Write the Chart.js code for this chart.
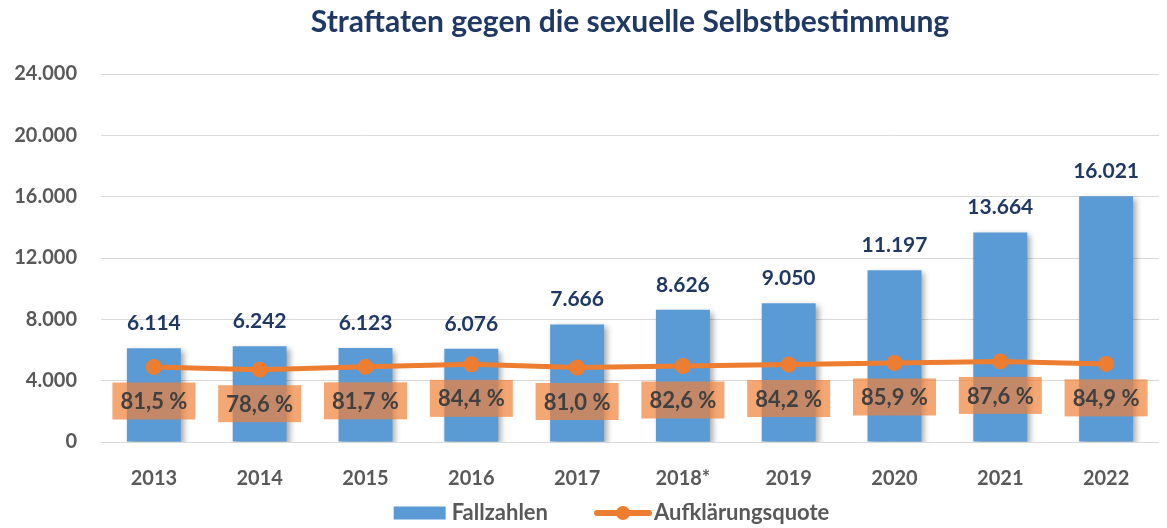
<!DOCTYPE html>
<html>
<head>
<meta charset="utf-8">
<script src="https://cdn.jsdelivr.net/npm/chart.js@4.4.1/dist/chart.umd.min.js"></script>
<style>
  html, body { margin: 0; padding: 0; background: #fff; }
  #wrap { width: 1167px; height: 528px; }
</style>
</head>
<body>
<div id="wrap"><canvas id="chart"></canvas></div>
<script>
const jahre = ['2013', '2014', '2015', '2016', '2017', '2018*', '2019', '2020', '2021', '2022'];
const fallzahlen = [6114, 6242, 6123, 6076, 7666, 8626, 9050, 11197, 13664, 16021];
const quote = [81.5, 78.6, 81.7, 84.4, 81.0, 82.6, 84.2, 85.9, 87.6, 84.9];
const yTicks = [0, 4000, 8000, 12000, 16000, 20000, 24000];

const BLAU = '#5b9bd5';
const ORANGE = '#ed7d31';
const GRAU = '#595959';
const FONT = 'Lato, "Open Sans", sans-serif';

// 6114 -> "6.114"
const tausender = v => String(v).replace(/\B(?=(\d{3})+(?!\d))/g, '.');
const prozent = v => v.toFixed(1).replace('.', ',') + ' %';

// Schatten hinter den Saeulen
const saeulenSchatten = {
    id: 'saeulenSchatten',
    beforeDatasetDraw(chart, args) {
        if (args.meta.type !== 'bar') return;
        const ctx = chart.ctx;
        ctx.save();
        ctx.shadowColor = 'rgba(0,0,0,0.35)';
        ctx.shadowBlur = 6;
        ctx.shadowOffsetX = 3;
        ctx.shadowOffsetY = 3;
    },
    afterDatasetDraw(chart, args) {
        if (args.meta.type !== 'bar') return;
        chart.ctx.restore();
    }
};

// Werte ueber den Saeulen und Quoten-Kaesten unter der Linie
const wertBeschriftung = {
    id: 'wertBeschriftung',
    afterDatasetsDraw(chart) {
        const ctx = chart.ctx;
        ctx.save();
        ctx.textAlign = 'center';
        ctx.textBaseline = 'middle';

        const bars = chart.getDatasetMeta(0).data;
        ctx.font = 'bold 21px ' + FONT;
        ctx.fillStyle = '#1f3864';
        bars.forEach((b, i) => {
            ctx.fillText(tausender(fallzahlen[i]), b.x, b.y - 25);
        });

        const punkte = chart.getDatasetMeta(1).data;
        ctx.font = 'bold 22px ' + FONT;
        punkte.forEach((p, i) => {
            const w = 83, h = 37;
            const cy = p.y + 34;
            ctx.fillStyle = 'rgba(240,128,55,0.7)';
            ctx.fillRect(p.x - w / 2, cy - h / 2, w, h);
            ctx.fillStyle = '#404040';
            ctx.fillText(prozent(quote[i]), p.x, cy + 1);
        });
        ctx.restore();
    }
};

// Legende unten: Block fuer Fallzahlen, Linie mit Punkt fuer die Quote
const legendeUnten = {
    id: 'legendeUnten',
    afterDraw(chart) {
        const ctx = chart.ctx;
        const names = chart.data.datasets.map(d => d.label);
        ctx.save();
        ctx.font = 'bold 22px ' + FONT;
        ctx.textBaseline = 'middle';
        ctx.textAlign = 'left';
        const w1 = ctx.measureText(names[0]).width;
        const w2 = ctx.measureText(names[1]).width;
        const total = 52 + 6 + w1 + 46 + 58 + 2 + w2;
        let x = chart.width / 2 + 28 - total / 2;
        const y = 513;

        ctx.fillStyle = BLAU;
        ctx.fillRect(x, y - 6.5, 52, 13);
        x += 58;
        ctx.fillStyle = GRAU;
        ctx.fillText(names[0], x, y);
        x += w1 + 46;

        ctx.strokeStyle = ORANGE;
        ctx.lineWidth = 6;
        ctx.lineCap = 'round';
        ctx.beginPath(); ctx.moveTo(x + 3, y); ctx.lineTo(x + 55, y); ctx.stroke();
        ctx.fillStyle = ORANGE;
        ctx.beginPath(); ctx.arc(x + 29, y, 7, 0, Math.PI * 2); ctx.fill();
        x += 60;
        ctx.fillStyle = GRAU;
        ctx.fillText(names[1], x, y);
        ctx.restore();
    }
};

new Chart(document.getElementById('chart'), {
    data: {
        labels: jahre,
        datasets: [{
            type: 'bar',
            label: 'Fallzahlen',
            data: fallzahlen,
            backgroundColor: BLAU,
            categoryPercentage: 1,
            barPercentage: 0.51,
            yAxisID: 'y',
            order: 2
        }, {
            type: 'line',
            label: 'Aufklärungsquote',
            data: quote,
            borderColor: ORANGE,
            backgroundColor: ORANGE,
            borderWidth: 5,
            pointRadius: 8,
            pointBackgroundColor: ORANGE,
            pointBorderWidth: 0,
            tension: 0,
            yAxisID: 'y2',
            order: 1
        }]
    },
    options: {
        responsive: true,
        maintainAspectRatio: false,
        animation: false,
        layout: { padding: { left: 7, right: 1, top: 0, bottom: 29 } },
        scales: {
            x: {
                grid: { display: false },
                border: { display: false },
                ticks: { font: { family: FONT, size: 20, weight: 'bold' }, color: GRAU, padding: 17 },
                afterFit: axis => { axis.height = 57; }
            },
            y: {
                min: yTicks[0],
                max: yTicks[yTicks.length - 1],
                afterBuildTicks: axis => { axis.ticks = yTicks.map(v => ({ value: v })); },
                grid: { color: '#d9d9d9', lineWidth: 1, drawTicks: false },
                border: { display: false },
                ticks: {
                    font: { family: FONT, size: 20, weight: 'bold' },
                    color: GRAU,
                    padding: 24,
                    callback: v => tausender(v)
                },
                afterFit: axis => { axis.width = 94; }
            },
            y2: {
                display: false,
                min: 0,
                max: 400
            }
        },
        plugins: {
            title: {
                display: true,
                fullSize: false,
                text: 'Straftaten gegen die sexuelle Selbstbestimmung',
                font: { family: FONT, size: 30, weight: 'bold' },
                color: '#1f3864',
                padding: { top: 4, bottom: 34 }
            },
            legend: { display: false },
            tooltip: { enabled: false }
        }
    },
    plugins: [saeulenSchatten, wertBeschriftung, legendeUnten]
});
</script>
</body>
</html>
